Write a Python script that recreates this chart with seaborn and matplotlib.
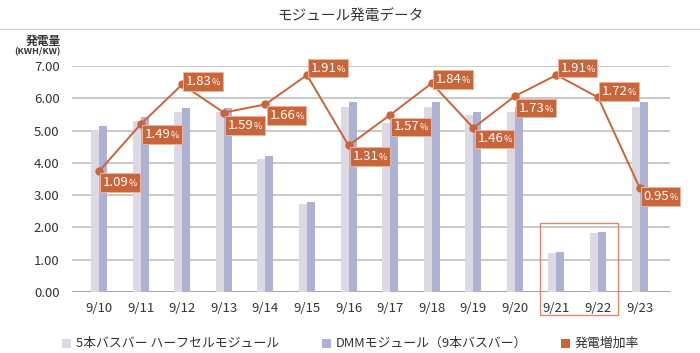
import numpy as np
import pandas as pd
import matplotlib
matplotlib.use("Agg")
import matplotlib.pyplot as plt
import seaborn as sns
from matplotlib.patches import Rectangle
from matplotlib.lines import Line2D
from matplotlib.offsetbox import TextArea, HPacker, AnnotationBbox

# ---------------- data ----------------
dates = ["9/10", "9/11", "9/12", "9/13", "9/14", "9/15", "9/16",
         "9/17", "9/18", "9/19", "9/20", "9/21", "9/22", "9/23"]
halfcell = [5.02, 5.29, 5.57, 5.57, 4.12, 2.72, 5.74,
            5.22, 5.74, 5.48, 5.58, 1.21, 1.82, 5.74]
dmm = [5.14, 5.43, 5.71, 5.70, 4.22, 2.80, 5.87,
       5.36, 5.88, 5.58, 5.72, 1.24, 1.87, 5.87]
increase = [1.09, 1.49, 1.83, 1.59, 1.66, 1.91, 1.31,
            1.57, 1.84, 1.46, 1.73, 1.91, 1.72, 0.95]
series_names = ["5本バスバー ハーフセルモジュール", "DMMモジュール（9本バスバー）", "発電増加率"]
y_ticks = [0, 1, 2, 3, 4, 5, 6, 7]
# label vertical offsets (px, positive = downward)
label_dy = [11, 10, -3, 13, 11, -7, 11, 12, -4, 11, 12, -7, -6, 9]

c_light = "#dcd9e4"
c_dark = "#adb2d4"
c_orange = "#c9653a"
c_grid = "#c4c4c4"
c_text = "#333333"

sns.set_theme(style="white")
plt.rcParams["font.family"] = ["Noto Sans CJK JP", "DejaVu Sans"]

W, H = 700, 353
fig = plt.figure(figsize=(W / 100, H / 100), dpi=100)
ax = fig.add_axes([72 / W, (H - 292) / H, (670 - 72) / W, (292 - 66) / H])

df = pd.DataFrame({
    "date": dates * 2,
    "value": halfcell + dmm,
    "series": [series_names[0]] * len(dates) + [series_names[1]] * len(dates),
})
sns.barplot(data=df, x="date", y="value", hue="series", ax=ax,
            palette=[c_light, c_dark], width=0.385, gap=0, legend=False,
            saturation=1, linewidth=0)

ax.set_ylim(0, 7)
ax.set_xlim(-0.65, 13.73)
ax.set_yticks(y_ticks)
ax.set_yticklabels([f"{v:.2f}" for v in y_ticks])
ax.set_xlabel("")
ax.set_ylabel("")
for s in ax.spines.values():
    s.set_visible(False)
ax.grid(False)
for v in y_ticks:
    ax.axhline(v, color=("#9a9a9a" if v == 0 else c_grid), lw=1.3, zorder=0)
ax.tick_params(axis="both", length=0, labelsize=9.5, labelcolor=c_text)
ax.tick_params(axis="y", pad=9)
ax.tick_params(axis="x", pad=7)

# secondary axis for percentages
ax2 = ax.twinx()
x_idx = np.arange(len(dates))
sns.lineplot(x=x_idx, y=increase, ax=ax2, color=c_orange, lw=1.4,
             marker="o", markersize=6, markeredgewidth=0)
ax2.set_ylim(0.062, 1.987)
ax2.set_xlim(-0.65, 13.73)
ax2.set_yticks([])
for s in ax2.spines.values():
    s.set_visible(False)

for i, (v, dy) in enumerate(zip(increase, label_dy)):
    t1 = TextArea(f"{v:.2f}", textprops=dict(color="white", fontsize=9.5))
    t2 = TextArea("%", textprops=dict(color="white", fontsize=6.5))
    pack = HPacker(children=[t1, t2], align="baseline", pad=0, sep=0)
    ab = AnnotationBbox(pack, (i, v), xycoords="data",
                        xybox=(4 * 0.72, -dy * 0.72), boxcoords="offset points",
                        box_alignment=(0, 0.5), frameon=True, pad=0.05,
                        bboxprops=dict(boxstyle="square,pad=0.18", fc=c_orange,
                                       ec="#eab49c", lw=0.7), zorder=5)
    ax2.add_artist(ab)

# highlight box around 9/21 - 9/22
hl = Rectangle((11 - 0.40, -0.71), 1.88, 2.84, transform=ax.transData,
               fill=False, ec="#e0896a", lw=1.0, clip_on=False, zorder=6)
ax.add_patch(hl)

# title and separator
fig.text(0.5, 1 - 17 / H, "モジュール発電データ", ha="center", va="center",
         fontsize=10.5, color=c_text)
fig.add_artist(Line2D([0, 1], [1 - 29 / H, 1 - 29 / H], color="#cccccc", lw=1.0))

# y-axis unit labels
fig.text(61 / W, 1 - 41.5 / H, "発電量", ha="right", va="center", fontsize=8.5,
         fontweight="bold", color=c_text)
fig.text(61 / W, 1 - 51.5 / H, "(KWH/KW)", ha="right", va="center", fontsize=6.5,
         fontweight="bold", color=c_text)

# legend
leg = [(62, c_light, series_names[0]), (322, c_dark, series_names[1]),
       (561, c_orange, series_names[2])]
for x0, col, name in leg:
    fig.add_artist(Rectangle((x0 / W, 1 - 348 / H), 9 / W, 9 / H,
                             transform=fig.transFigure, fc=col, ec="none"))
    fig.text((x0 + 14) / W, 1 - 343.5 / H, name, ha="left", va="center",
             fontsize=9.3, color=c_text)

fig.savefig("out.png", dpi=100)
